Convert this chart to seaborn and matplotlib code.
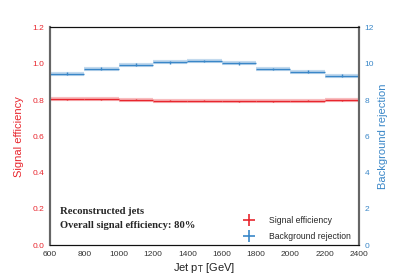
import numpy as np
import matplotlib as mpl
import matplotlib.pyplot as plt
import seaborn as sns

# data
bin_edges = [600, 800, 1000, 1200, 1400, 1600, 1800, 2000, 2200, 2400]
sig_eff = [0.804, 0.805, 0.802, 0.797, 0.795, 0.793, 0.794, 0.795, 0.798]
sig_err = [0.003, 0.003, 0.003, 0.003, 0.003, 0.003, 0.003, 0.003, 0.003]
bkg_rej = [9.45, 9.73, 9.95, 10.07, 10.15, 10.02, 9.71, 9.56, 9.34]
bkg_err = [0.08, 0.08, 0.08, 0.08, 0.08, 0.08, 0.08, 0.08, 0.08]

red = "#e8262e"
blue = "#3a87c8"

sns.set_style("white")
mpl.rcParams["font.family"] = ["Liberation Sans", "DejaVu Sans"]

centers = [(a + b) / 2 for a, b in zip(bin_edges[:-1], bin_edges[1:])]
half = [(b - a) / 2 for a, b in zip(bin_edges[:-1], bin_edges[1:])]

fig, ax = plt.subplots(figsize=(3.99, 2.74), dpi=100)
fig.subplots_adjust(left=0.125, right=0.9, top=0.9, bottom=0.105)
ax2 = ax.twinx()

# light bands behind lines
ax.hlines(sig_eff, bin_edges[:-1], bin_edges[1:], color=red, lw=3, alpha=0.3)
ax2.hlines(bkg_rej, bin_edges[:-1], bin_edges[1:], color=blue, lw=3, alpha=0.3)

ax.errorbar(centers, sig_eff, xerr=half, yerr=sig_err, fmt="none",
            ecolor=red, elinewidth=1.0, label="Signal efficiency")
ax2.errorbar(centers, bkg_rej, xerr=half, yerr=bkg_err, fmt="none",
             ecolor=blue, elinewidth=1.0, label="Background rejection")

ax.set_xlim(600, 2400)
ax.set_ylim(0, 1.2)
ax2.set_ylim(0, 12)
ax.set_xticks(range(600, 2401, 200))
ax.set_yticks(np.arange(0, 1.21, 0.2))
ax.set_yticklabels([f"{v:.1f}" for v in np.arange(0, 1.21, 0.2)])
ax2.set_yticks(range(0, 13, 2))

ax.tick_params(axis="x", labelsize=6, colors="#333333", length=0, pad=4)
ax.tick_params(axis="y", labelsize=6, colors=red, length=0, pad=4)
ax2.tick_params(axis="y", labelsize=6, colors=blue, length=0, pad=4)

ax.set_xlabel("Jet p$_\\mathrm{T}$ [GeV]", fontsize=8, color="#222222", labelpad=2)
ax.set_ylabel("Signal efficiency", fontsize=8, color=red, labelpad=6)
ax2.set_ylabel("Background rejection", fontsize=8, color=blue, labelpad=3)

for a in (ax, ax2):
    a.spines["top"].set_color("#111111")
    a.spines["top"].set_linewidth(0.8)
    a.spines["bottom"].set_color("#111111")
    a.spines["bottom"].set_linewidth(0.8)
    a.spines["left"].set_color("#666666")
    a.spines["left"].set_linewidth(1.5)
    a.spines["right"].set_color("#666666")
    a.spines["right"].set_linewidth(1.5)

ax.text(0.032, 0.155, "Reconstructed jets", transform=ax.transAxes,
        fontsize=7.7, fontweight="bold", family="Liberation Serif", va="center")
ax.text(0.032, 0.092, "Overall signal efficiency: 80%", transform=ax.transAxes,
        fontsize=7.6, fontweight="bold", family="Liberation Serif", va="center")

handles = [
    plt.Line2D([], [], color=red, marker="+", ls="none", markersize=8, mew=1.2),
    plt.Line2D([], [], color=blue, marker="+", ls="none", markersize=8, mew=1.2),
]
ax.legend(handles, ["Signal efficiency", "Background rejection"], loc="lower right",
          frameon=False, fontsize=6.2, bbox_to_anchor=(1.0, -0.015),
          handletextpad=1.4, labelspacing=0.8)

fig.savefig("out.png", dpi=100)
